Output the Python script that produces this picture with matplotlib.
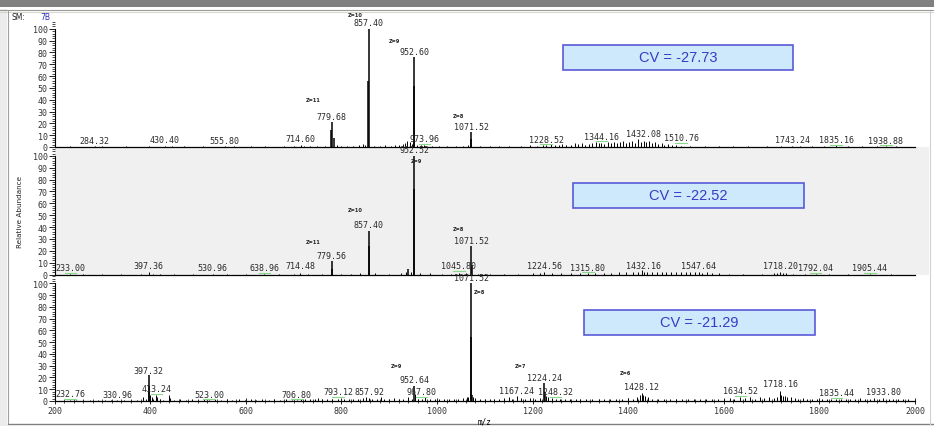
import matplotlib
matplotlib.use("Agg")
import matplotlib.pyplot as plt
from matplotlib.patches import Rectangle
from matplotlib.lines import Line2D
from matplotlib.ticker import MultipleLocator

# ---- data (m/z, relative abundance %) ----
cv_values = [-27.73, -22.52, -21.29]

# top spectrum, CV = -27.73
a_main = [(779.68, 21), (779.2, 14), (785.5, 8), (856.8, 56), (857.40, 100),
          (952.15, 52), (952.60, 76), (1071.0, 7), (1071.52, 12.5)]
a_noise = [(232, 0.5), (284.32, 0.8), (300, 0.5), (350, 0.5), (398, 0.6), (430.40, 1.2),
           (445, 0.6), (470, 0.5), (510, 0.5), (555.80, 0.8), (575, 0.5), (610, 0.5),
           (640, 0.6), (680, 0.6), (700, 1.0), (714.60, 1.8), (722, 1.0), (735, 0.8),
           (750, 1.0), (765, 0.8), (790, 1.5), (800, 1.2), (812, 1.0), (825, 1.2),
           (836, 1.8), (845, 2.5), (850, 1.5), (868, 1.2), (880, 1.0), (892, 1.5),
           (903, 1.2), (912, 1.8), (920, 2.0), (928, 2.5), (934, 3.5), (938, 5.0),
           (944, 4.0), (948, 2.5), (958, 2.0), (966, 1.5), (973.96, 1.8), (990, 1.2),
           (1005, 1.0), (1020, 1.2), (1040, 1.0), (1055, 1.2), (1064, 1.5), (1090, 1.0),
           (1110, 1.0), (1130, 1.2), (1150, 1.0), (1175, 1.0), (1195, 1.5), (1210, 1.2),
           (1222, 2.0), (1228.52, 1.5), (1238, 2.5), (1246, 2.0), (1255, 1.8), (1262, 2.5),
           (1270, 1.5), (1280, 2.0), (1288, 3.0), (1296, 2.5), (1303, 3.5), (1310, 2.0),
           (1318, 2.5), (1325, 3.0), (1332, 4.0), (1338, 3.0), (1344.16, 3.5), (1350, 2.5),
           (1357, 4.0), (1364, 3.0), (1370, 4.5), (1376, 3.5), (1383, 4.0), (1390, 5.5),
           (1396, 3.5), (1402, 4.0), (1408, 5.0), (1414, 3.5), (1420, 6.5), (1426, 4.5),
           (1432.08, 5.5), (1438, 4.0), (1444, 5.0), (1450, 3.0), (1456, 4.0), (1463, 2.5),
           (1470, 3.0), (1476, 2.0), (1484, 2.5), (1492, 1.5), (1500, 1.5), (1510.76, 1.2),
           (1530, 0.8), (1560, 0.8), (1590, 0.8), (1620, 0.8), (1650, 0.8), (1690, 0.8),
           (1720, 0.8), (1743.24, 1.2), (1760, 0.8), (1785, 0.8), (1810, 0.8), (1835.16, 1.5),
           (1860, 0.8), (1890, 0.8), (1920, 0.8), (1938.88, 0.8), (1960, 0.8)]
a_labels = [(284.32, 0.5), (430.40, 1), (555.80, 0.5), (714.60, 2), (779.68, 21),
            (857.40, 100), (952.60, 76), (973.96, 2), (1071.52, 12.5), (1228.52, 1.5),
            (1344.16, 4), (1432.08, 6.5), (1510.76, 2.5), (1743.24, 1), (1835.16, 1),
            (1938.88, 0.5)]
a_charges = [("Z=11", 741, 40), ("Z=10", 829, 112), ("Z=9", 911, 90), ("Z=8", 1045, 27)]
a_green = [973.96, 1228.52, 1344.16, 1510.76, 1835.16, 1938.88]

# middle spectrum, CV = -22.52
b_main = [(779.56, 11), (780.3, 5), (856.9, 24), (857.40, 37), (940, 5),
          (952.0, 72), (952.52, 100), (1071.52, 24), (1072.3, 8)]
b_noise = [(233.00, 0.5), (260, 0.5), (300, 0.5), (340, 0.5), (380, 0.6), (397.36, 1.8),
           (405, 0.6), (420, 0.8), (450, 0.5), (490, 0.5), (530.96, 0.6), (560, 0.5),
           (600, 0.5), (638.96, 0.4), (670, 0.5), (700, 0.8), (714.48, 1.5), (730, 0.8),
           (760, 0.8), (800, 0.8), (820, 0.8), (840, 1.0), (870, 1.0), (900, 0.8),
           (925, 1.2), (935, 2.0), (945, 2.0), (965, 1.5), (985, 1.0), (1010, 0.8),
           (1030, 0.8), (1045.80, 1.2), (1060, 1.0), (1085, 0.8), (1110, 0.8), (1140, 0.8),
           (1170, 0.8), (1200, 1.0), (1215, 1.0), (1224.56, 2.0), (1240, 1.0), (1260, 1.0),
           (1280, 1.0), (1300, 1.2), (1315.80, 1.0), (1330, 1.2), (1350, 1.5), (1365, 1.5),
           (1380, 2.0), (1395, 1.8), (1410, 2.0), (1420, 2.5), (1428, 3.5), (1432.16, 2.5),
           (1440, 2.0), (1450, 2.5), (1460, 2.0), (1470, 2.5), (1480, 2.0), (1490, 2.5),
           (1500, 2.0), (1510, 2.5), (1520, 2.0), (1530, 2.5), (1540, 2.0), (1547.64, 2.0),
           (1555, 1.5), (1565, 2.0), (1575, 1.2), (1590, 1.0), (1610, 0.8), (1640, 0.6),
           (1680, 0.6), (1705, 1.0), (1712, 1.5), (1718.20, 2.0), (1724, 1.5), (1730, 1.2),
           (1745, 0.8), (1770, 0.6), (1792.04, 0.5), (1820, 0.5), (1860, 0.5),
           (1905.44, 0.6), (1950, 0.5)]
b_labels = [(233.00, 0.5), (397.36, 2), (530.96, 0.5), (638.96, 0.3), (714.48, 2),
            (779.56, 11), (857.40, 37), (952.52, 100), (1045.80, 2), (1071.52, 23.5),
            (1224.56, 2), (1315.80, 1), (1432.16, 2.5), (1547.64, 2), (1718.20, 2),
            (1792.04, 0.5), (1905.44, 0.8)]
b_charges = [("Z=11", 741, 28), ("Z=10", 829, 55), ("Z=9", 957, 96), ("Z=8", 1045, 39)]
b_green = [233.00, 638.96, 1045.80, 1315.80, 1792.04, 1905.44]

# bottom spectrum, CV = -21.29
c_main = [(397.32, 22), (398.5, 13), (952.64, 13), (1071.0, 54), (1071.52, 100),
          (1072.5, 5), (1224.24, 15), (1225.5, 8)]
c_noise = [(232.76, 1.0), (245, 0.8), (260, 1.0), (275, 0.8), (290, 1.0), (305, 0.8),
           (318, 1.2), (330.96, 1.0), (345, 0.8), (360, 1.0), (372, 1.2), (385, 3.5),
           (391, 1.5), (400.5, 5), (403, 3), (407, 2), (413.24, 5.5), (414.5, 3),
           (420, 1.5), (428, 1.2), (440, 5.0), (441.5, 2.5), (450, 1.2), (462, 2.0),
           (475, 1.2), (488, 1.5), (500, 1.2), (512, 1.5), (523.00, 1.0), (535, 1.5),
           (548, 1.2), (560, 1.5), (572, 1.2), (585, 1.5), (598, 1.2), (610, 1.5),
           (622, 1.2), (635, 1.5), (648, 1.2), (660, 1.5), (672, 1.2), (685, 1.5),
           (697, 1.2), (706.80, 1.0), (715, 1.5), (725, 2.0), (735, 1.8), (745, 2.0),
           (752, 2.5), (760, 2.0), (770, 1.5), (780, 1.8), (793.12, 1.5), (805, 2.0),
           (815, 1.5), (825, 2.0), (835, 1.5), (845, 2.5), (852, 3.5), (857.92, 2.5),
           (865, 2.0), (875, 1.5), (882, 3.5), (890, 2.0), (900, 1.5), (910, 2.5),
           (920, 2.0), (930, 2.0), (940, 3.0), (948, 2.0), (954, 6), (960, 2.0),
           (967.80, 1.5), (975, 3.0), (985, 1.5), (995, 2.0), (1005, 2.0), (1015, 1.5),
           (1025, 2.0), (1035, 1.5), (1045, 2.0), (1055, 2.5), (1062, 3.5), (1066, 3.0),
           (1075, 3.5), (1080, 2.5), (1090, 2.0), (1100, 1.5), (1110, 2.0), (1120, 1.5),
           (1130, 2.0), (1140, 2.5), (1150, 3.0), (1158, 2.0), (1167.24, 4.0), (1175, 2.5),
           (1185, 2.0), (1195, 2.5), (1205, 2.0), (1215, 2.5), (1228, 4), (1233, 3),
           (1240, 2.5), (1248.32, 1.5), (1258, 2.0), (1268, 1.5), (1278, 2.0), (1290, 1.5),
           (1300, 2.0), (1312, 1.5), (1325, 2.0), (1338, 1.5), (1350, 2.0), (1362, 1.5),
           (1375, 2.0), (1388, 1.5), (1400, 2.5), (1410, 2.0), (1418, 3.0), (1425, 5.0),
           (1428.12, 6.5), (1431, 5.0), (1436, 4.0), (1442, 3.0), (1450, 2.0), (1462, 1.5),
           (1475, 2.0), (1488, 1.5), (1500, 2.0), (1512, 1.5), (1525, 2.0), (1538, 1.5),
           (1550, 2.0), (1562, 1.5), (1575, 2.0), (1588, 1.5), (1600, 2.0), (1612, 2.5),
           (1622, 2.0), (1634.52, 3.0), (1645, 2.5), (1655, 3.0), (1665, 2.0), (1675, 3.5),
           (1685, 2.5), (1695, 3.0), (1705, 2.5), (1712, 3.0), (1718.16, 8.5), (1720, 5.0),
           (1724, 4.0), (1728, 4.5), (1733, 3.0), (1740, 3.5), (1748, 2.5), (1755, 2.0),
           (1765, 2.5), (1775, 2.0), (1785, 1.5), (1795, 2.0), (1805, 1.5), (1815, 2.0),
           (1825, 1.5), (1835.44, 2.0), (1845, 1.5), (1855, 2.0), (1865, 1.5), (1875, 2.0),
           (1885, 2.5), (1895, 1.5), (1905, 2.0), (1915, 2.5), (1925, 2.0), (1933.80, 2.5),
           (1945, 2.0), (1955, 1.5), (1965, 2.0), (1975, 1.5), (1985, 2.0)]
c_labels = [(232.76, 1), (330.96, 0.5), (397.32, 21), (413.24, 5), (523.00, 0.5),
            (706.80, 0.5), (793.12, 3), (857.92, 3), (952.64, 13), (967.80, 3),
            (1071.52, 100), (1167.24, 4), (1224.24, 14.5), (1248.32, 2.5), (1428.12, 7.5),
            (1634.52, 3.5), (1718.16, 9.3), (1835.44, 2), (1933.80, 2.5)]
c_charges = [("Z=9", 915, 30), ("Z=8", 1089, 93), ("Z=7", 1174, 30), ("Z=6", 1394, 24)]
c_green = [232.76, 413.24, 523.00, 706.80, 793.12, 967.80, 1248.32, 1634.52, 1835.44]

x_ticks = [200, 400, 600, 800, 1000, 1200, 1400, 1600, 1800, 2000]

panels = [
    (a_main, a_noise, a_labels, a_charges, a_green),
    (b_main, b_noise, b_labels, b_charges, b_green),
    (c_main, c_noise, c_labels, c_charges, c_green),
]

W, H = 934, 427
fig = plt.figure(figsize=(W / 100, H / 100), dpi=100)


def px_rect(x0, y0, x1, y1):
    # pixel box (top-left origin) -> figure fraction
    return [x0 / W, 1 - y1 / H, (x1 - x0) / W, (y1 - y0) / H]


# window chrome around the plot
fig.patches.append(Rectangle((0, 1 - 8 / H), 1, 8 / H, transform=fig.transFigure,
                             facecolor="#808080", edgecolor="none", zorder=-2))
fig.add_artist(Line2D([0, 1], [1 - 10.5 / H] * 2, color="#9a9a9a", lw=0.8, zorder=-1))
fig.add_artist(Line2D([0, 1], [1 - 12.5 / H] * 2, color="#d8d8d0", lw=0.8, zorder=-1))
fig.patches.append(Rectangle((0, 0), 7 / W, 1 - 10 / H, transform=fig.transFigure,
                             facecolor="#ececec", edgecolor="none", zorder=-2))
fig.add_artist(Line2D([8 / W] * 2, [2 / H, 1 - 12 / H], color="#a0a0a0", lw=0.8, zorder=-1))
fig.add_artist(Line2D([8 / W, 1], [2.5 / H] * 2, color="#808080", lw=1.0, zorder=-1))
fig.add_artist(Line2D([930 / W] * 2, [2 / H, 1 - 12 / H], color="#d0d0d0", lw=0.8, zorder=-1))

# grey background behind the middle spectrum
mid_bg = px_rect(55, 148, 929, 275.5)
fig.patches.append(Rectangle((mid_bg[0], mid_bg[1]), mid_bg[2], mid_bg[3],
                             transform=fig.transFigure, facecolor="#f0f0f0",
                             edgecolor="none", zorder=-2))

fig.text(12 / W, 1 - 17 / H, "SM:", fontsize=5.5, color="#222222", va="center")
fig.text(40 / W, 1 - 17 / H, "7B", fontsize=5.5, color="#2a2ab8", va="center")
fig.text(20 / W, 1 - 212 / H, "Relative Abundance", rotation=90, fontsize=5.2,
         family=["Liberation Sans Narrow", "DejaVu Sans"], color="#222222",
         ha="center", va="center")

axes_px = [(21, 148), (148, 275.5), (275.5, 402)]
box_px = [(563, 46, 793, 71), (573, 184, 804, 209), (584, 311, 815, 336)]

lab_font = dict(family="DejaVu Sans Mono", fontsize=6.0, color="#2a2a2a")

for i, (main, noise, labels, charges, green) in enumerate(panels):
    y0, y1 = axes_px[i]
    ax = fig.add_axes(px_rect(54.5, y0, 915, y1))
    ax.patch.set_visible(False)
    ax.set_xlim(200, 2000)
    ax.set_ylim(0, 107.5)

    nx, ny = zip(*noise)
    ax.vlines(nx, 0, ny, color="black", lw=0.7)
    mx, my = zip(*main)
    ax.vlines(mx, 0, my, color="black", lw=1.1)

    for mz, h in labels:
        ax.annotate(f"{mz:.2f}", (mz, h), xytext=(0, 1.2), textcoords="offset points",
                    ha="center", va="bottom", annotation_clip=False, **lab_font)
    for mz in green:
        h = dict(labels)[mz]
        ax.plot([mz - 12, mz + 12], [h + 0.8, h + 0.8], color="#8ad88a", lw=0.8,
                clip_on=False)
    for txt, mz, h in charges:
        ax.text(mz, h, txt, fontsize=3.6, fontweight="bold", color="#222222",
                ha="center", va="center", clip_on=False)

    for side in ("top", "right"):
        ax.spines[side].set_visible(False)
    ax.spines["left"].set_bounds(0, 100)
    ax.spines["left"].set_linewidth(0.8)
    ax.spines["bottom"].set_linewidth(0.9)

    ax.set_yticks(range(0, 101, 10))
    ax.yaxis.set_minor_locator(MultipleLocator(2))
    ax.tick_params(axis="y", which="major", direction="out", length=4, width=0.6,
                   pad=1, labelsize=6.0, labelcolor="#333333")
    ax.tick_params(axis="y", which="minor", direction="out", length=2, width=0.5)
    for t in ax.get_yticklabels():
        t.set_family("DejaVu Sans Mono")

    if i < 2:
        ax.tick_params(axis="x", which="both", bottom=False, labelbottom=False)
    else:
        ax.set_xticks(x_ticks)
        ax.xaxis.set_minor_locator(MultipleLocator(20))
        ax.tick_params(axis="x", which="major", direction="inout", length=5, width=0.6,
                       pad=1, labelsize=6.0, labelcolor="#333333")
        ax.tick_params(axis="x", which="minor", direction="inout", length=3, width=0.5)
        for t in ax.get_xticklabels():
            t.set_family("DejaVu Sans Mono")
        ax.set_xlabel("m/z", fontsize=5.5, family="DejaVu Sans Mono", labelpad=1)

    bx0, by0, bx1, by1 = box_px[i]
    r = px_rect(bx0, by0, bx1, by1)
    fig.patches.append(Rectangle((r[0], r[1]), r[2], r[3], transform=fig.transFigure,
                                 facecolor="#cde9fb", edgecolor="#5a5ad8", lw=1.2,
                                 zorder=5))
    fig.text(r[0] + r[2] / 2, r[1] + r[3] / 2, f"CV = {cv_values[i]:.2f}",
             fontsize=10.5, family="Liberation Sans", color="#3a3ac4",
             ha="center", va="center", zorder=6)

fig.savefig("out.png", dpi=100)
